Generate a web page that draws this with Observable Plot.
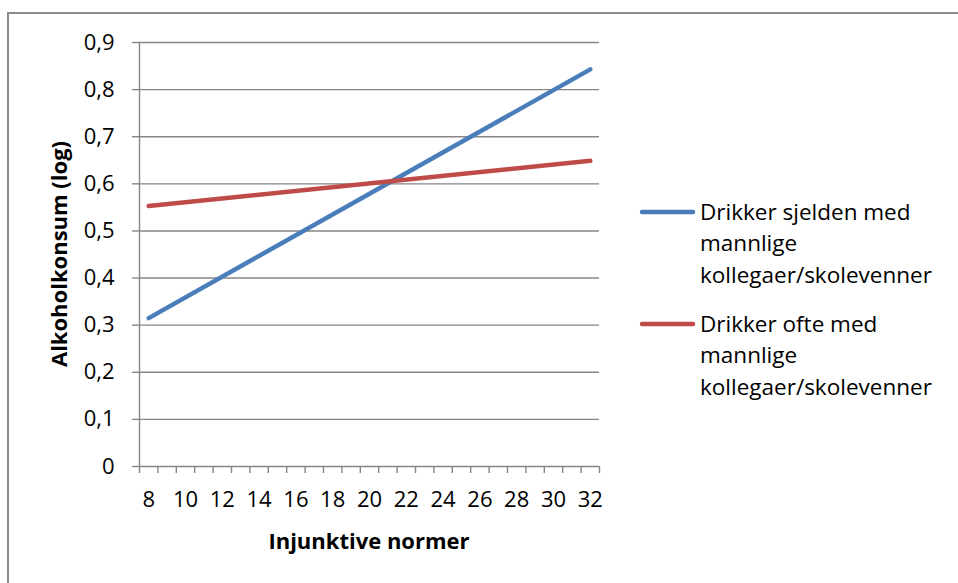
<!DOCTYPE html>
<html>
<head>
<meta charset="utf-8">
<script src="https://cdn.jsdelivr.net/npm/d3@7"></script>
<script src="https://cdn.jsdelivr.net/npm/@observablehq/plot@0.6"></script>
<style>
  html, body { margin: 0; padding: 0; background: #fff; }
  #wrap { position: relative; width: 958px; height: 583px; overflow: hidden; }
  #frame { position: absolute; left: 7px; top: 12px; width: 1000px; height: 1000px;
           border-left: 2px solid #8c8c8c; border-top: 2px solid #8c8c8c; box-sizing: border-box; }
  #chart { position: absolute; left: 0; top: 0; }
  #chart g[aria-label$="tick label"], #chart g[aria-label$="tick label"] text {
    font-size: 22px !important; font-family: 'Open Sans', sans-serif !important; }
</style>
</head>
<body>
<div id="wrap"><div id="frame"></div><div id="chart"></div></div>
<script>
// Categories on the x axis (Injunktive normer)
const categories = [8,9,10,11,12,13,14,15,16,17,18,19,20,21,22,23,24,25,26,27,28,29,30,31,32];
const xTickValues = [8,10,12,14,16,18,20,22,24,26,28,30,32];
const yTickValues = [0,0.1,0.2,0.3,0.4,0.5,0.6,0.7,0.8,0.9];
const yTickLabels = ["0","0,1","0,2","0,3","0,4","0,5","0,6","0,7","0,8","0,9"];

// Series (end points of straight lines)
const seriesNames = [
  ["Drikker sjelden med", "mannlige", "kollegaer/skolevenner"],
  ["Drikker ofte med", "mannlige", "kollegaer/skolevenner"]
];
const seriesX = [8, 32];
const seldenValues = [0.315, 0.843];
const ofteValues = [0.553, 0.649];
const seriesColors = ["#4a7ebb", "#be4b48"];

const rows = [];
seriesX.forEach((x, i) => rows.push({s: 0, x, y: seldenValues[i]}));
seriesX.forEach((x, i) => rows.push({s: 1, x, y: ofteValues[i]}));

const boundaries = categories.map(c => c - 0.5).concat([categories[categories.length - 1] + 0.5]);

const font = "'Open Sans', sans-serif";
const grid = "#868686";

const plot = Plot.plot({
  width: 958,
  height: 583,
  marginLeft: 139,
  marginRight: 359,
  marginTop: 42,
  marginBottom: 117,
  style: {fontFamily: font, fontSize: "22px", color: "#000", background: "transparent", overflow: "visible"},
  x: {type: "linear", domain: [categories[0] - 0.5, categories[categories.length - 1] + 0.5]},
  y: {domain: [0, 0.9]},
  marks: [
    Plot.ruleY(yTickValues.slice(1), {stroke: grid, strokeWidth: 1.4}),
    Plot.ruleX([categories[0] - 0.5], {stroke: grid, strokeWidth: 1.4}),
    Plot.ruleY([0], {stroke: grid, strokeWidth: 1.4}),
    Plot.axisY({ticks: yTickValues, tickSize: 7, tickPadding: 18, stroke: grid, strokeWidth: 1.4, fontSize: 22,
      tickFormat: d => yTickLabels[yTickValues.findIndex(v => Math.abs(v - d) < 1e-9)], label: null, fill: "#000"}),
    Plot.axisX({ticks: boundaries, tickSize: 7, stroke: grid, strokeWidth: 1.4, tickFormat: () => "", label: null}),
    Plot.axisX({ticks: xTickValues, tickSize: 0, tickPadding: 25, fontSize: 22, tickFormat: d => String(d), label: null, fill: "#000"}),
    Plot.line(rows, {x: "x", y: "y", z: "s", stroke: d => seriesColors[d.s], strokeWidth: 4.5, strokeLinecap: "round"})
  ]
});
document.getElementById("chart").appendChild(plot);

const svg = d3.select(plot);
// Axis titles
svg.append("text").attr("x", 369).attr("y", 541).attr("dy", "0.35em")
  .attr("text-anchor", "middle").attr("font-weight", "bold").attr("font-size", 22)
  .attr("font-family", font).attr("fill", "#000").text("Injunktive normer");
svg.append("text").attr("transform", "translate(59,254) rotate(-90)").attr("dy", "0.35em")
  .attr("text-anchor", "middle").attr("font-weight", "bold").attr("font-size", 22)
  .attr("font-family", font).attr("fill", "#000").text("Alkoholkonsum (log)");

// Legend
const legendTop = [212, 324];
const lineGap = 31.5;
seriesNames.forEach((lines, i) => {
  const g = svg.append("g");
  g.append("line").attr("x1", 642).attr("x2", 693).attr("y1", legendTop[i]).attr("y2", legendTop[i])
    .attr("stroke", seriesColors[i]).attr("stroke-width", 4.5).attr("stroke-linecap", "round");
  lines.forEach((t, j) => {
    g.append("text").attr("x", 700).attr("y", legendTop[i] + j * lineGap).attr("dy", "0.35em")
      .attr("text-anchor", "start")
      .attr("font-family", font).attr("font-size", 22.5).attr("fill", "#000").text(t);
  });
});
</script>
</body>
</html>
